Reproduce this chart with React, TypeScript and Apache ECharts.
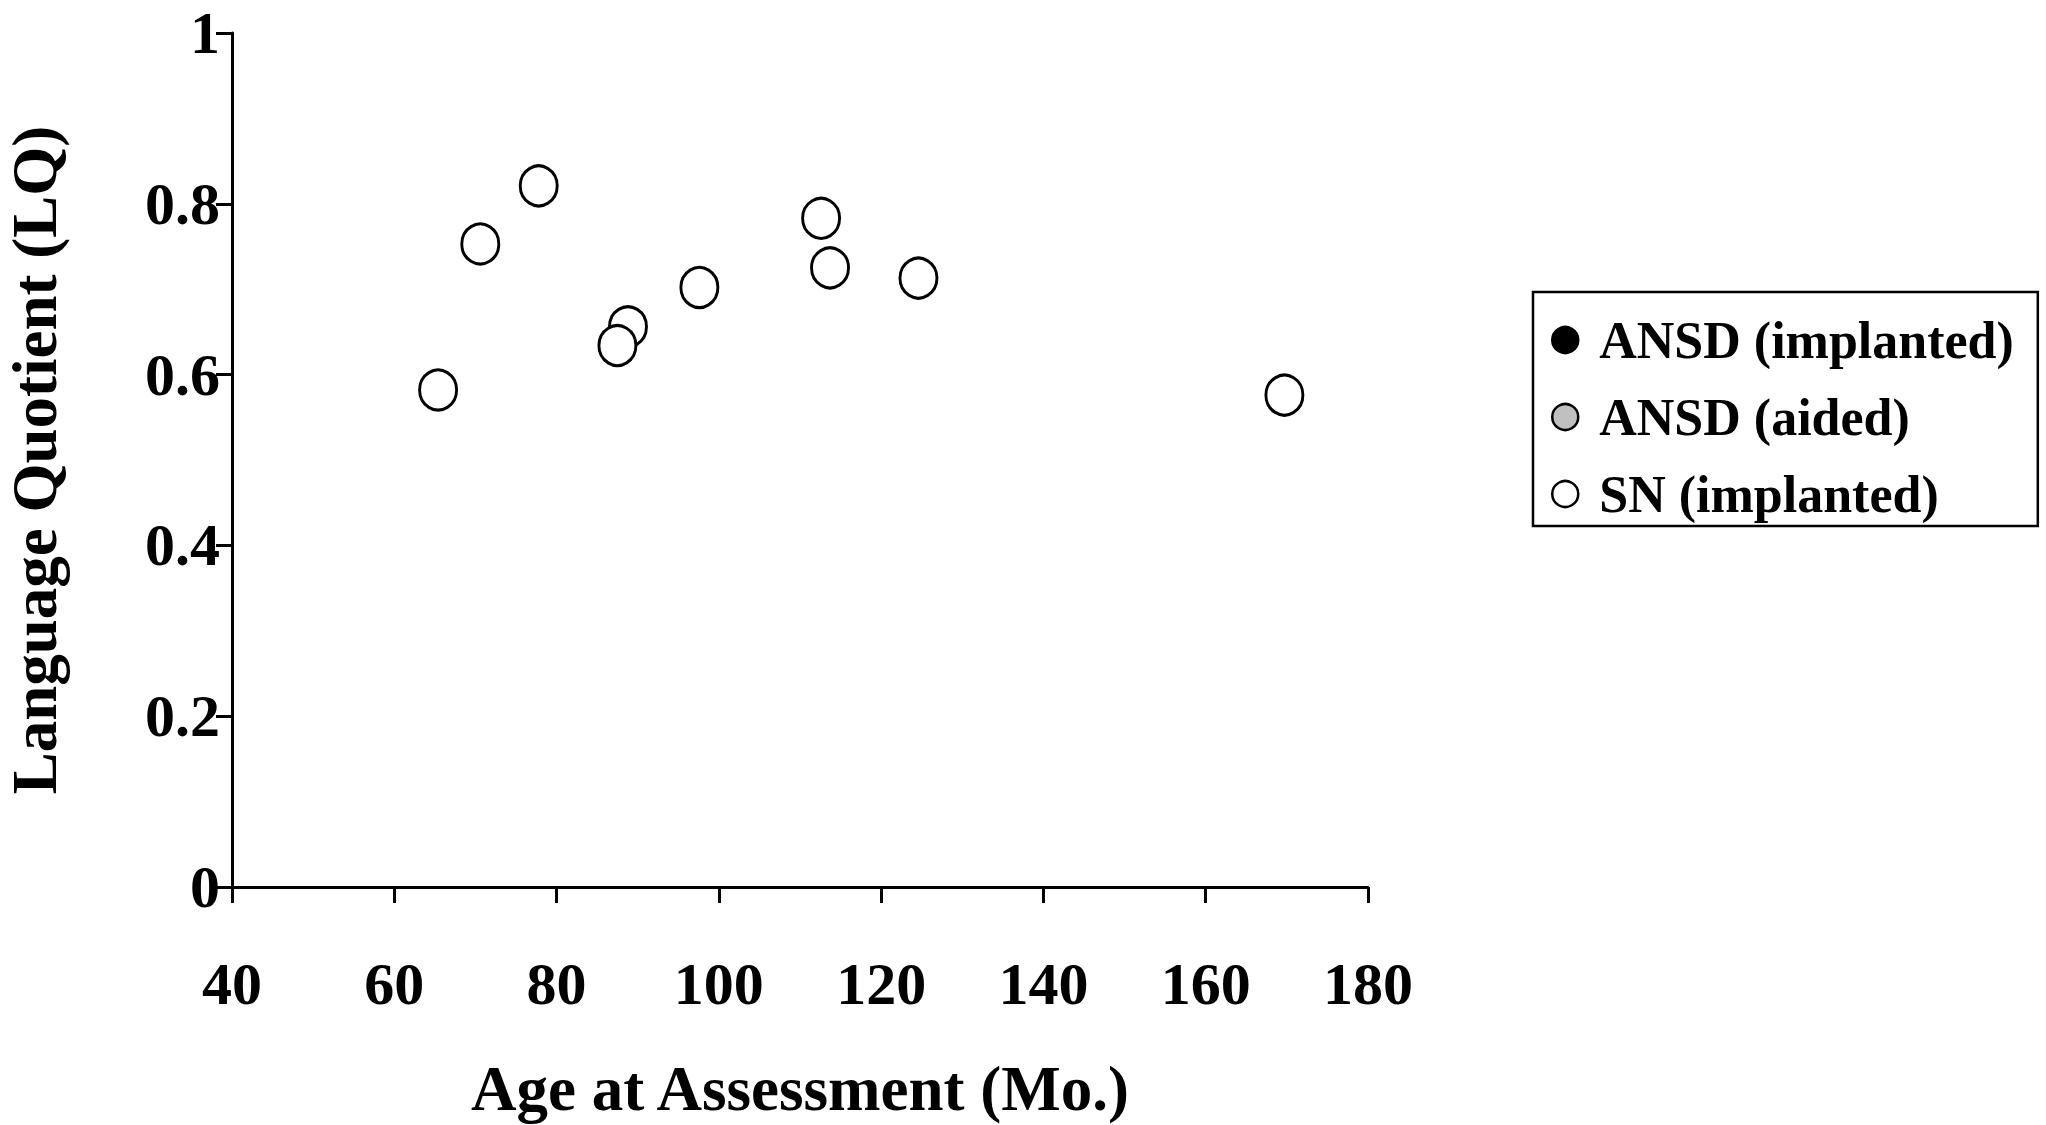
import React, { useEffect, useRef } from "react";
import * as echarts from "echarts";

const seriesNames = ["ANSD (implanted)", "ANSD (aided)", "SN (implanted)"];
const ansdImplantedAge: number[] = [];
const ansdImplantedLQ: number[] = [];
const ansdAidedAge: number[] = [];
const ansdAidedLQ: number[] = [];
const snAge = [65.4, 70.6, 77.8, 88.8, 87.5, 97.6, 112.6, 113.7, 124.6, 169.7];
const snLQ = [0.582, 0.753, 0.821, 0.656, 0.634, 0.702, 0.783, 0.725, 0.713, 0.576];

const xTitle = "Age at Assessment (Mo.)";
const yTitle = "Language Quotient (LQ)";

const pairs = (xs: number[], ys: number[]) => xs.map((x, i) => [x, ys[i]]);

const FONT = "'Liberation Serif', 'Times New Roman', serif";
const fills = ["#000", "#c0c0c0", "#fff"];

export default function App() {
  const ref = useRef<HTMLDivElement>(null);
  useEffect(() => {
    document.body.style.margin = "0";
    document.body.style.overflow = "hidden";
    const chart = echarts.init(ref.current!, null, { renderer: "svg" });
    const axisCommon = {
      axisLine: { show: true, lineStyle: { color: "#000", width: 3 } },
      axisTick: { show: true, length: 16, lineStyle: { color: "#000", width: 3 } },
      splitLine: { show: false },
      nameTextStyle: { fontFamily: FONT, fontWeight: "bold", fontSize: 63, color: "#000" },
    };
    chart.setOption({
      animation: false,
      backgroundColor: "#fff",
      grid: { left: 232, right: 678, top: 33, bottom: 238, outerBoundsMode: "none", containLabel: false },
      xAxis: {
        type: "value",
        min: 40,
        max: 180,
        interval: 20,
        name: xTitle,
        nameLocation: "middle",
        nameGap: 170,
        ...axisCommon,
        axisLabel: { margin: 67, fontFamily: FONT, fontWeight: "bold", fontSize: 60, color: "#000" },
      },
      yAxis: {
        type: "value",
        min: 0,
        max: 1,
        interval: 0.2,
        name: yTitle,
        nameLocation: "middle",
        nameGap: 166,
        nameRotate: 90,
        ...axisCommon,
        axisLabel: { margin: 12, fontFamily: FONT, fontWeight: "bold", fontSize: 60, color: "#000" },
      },
      legend: {
        orient: "vertical",
        left: 1533,
        top: 292,
        padding: [20, 24, 4, 18],
        itemGap: 21,
        itemWidth: 58,
        itemHeight: 26,
        borderColor: "#000",
        borderWidth: 2.5,
        borderRadius: 0,
        textStyle: { fontFamily: FONT, fontWeight: "bold", fontSize: 52, lineHeight: 56, color: "#000" },
        data: seriesNames.map((n, i) => ({
          name: n,
          icon: "circle",
          itemStyle: { color: fills[i], borderColor: "#000", borderWidth: 2.5, opacity: 1 },
        })),
      },
      series: [
        {
          name: seriesNames[0],
          type: "scatter",
          data: pairs(ansdImplantedAge, ansdImplantedLQ),
          symbol: "circle",
          symbolSize: [37, 40],
          itemStyle: { color: fills[0], borderColor: "#000", borderWidth: 3, opacity: 1 },
        },
        {
          name: seriesNames[1],
          type: "scatter",
          data: pairs(ansdAidedAge, ansdAidedLQ),
          symbol: "circle",
          symbolSize: [37, 40],
          itemStyle: { color: fills[1], borderColor: "#000", borderWidth: 3, opacity: 1 },
        },
        {
          name: seriesNames[2],
          type: "scatter",
          data: pairs(snAge, snLQ),
          symbol: "circle",
          symbolSize: [37, 40],
          itemStyle: { color: fills[2], borderColor: "#000", borderWidth: 3, opacity: 1 },
        },
      ],
    });
    return () => chart.dispose();
  }, []);
  return <div ref={ref} style={{ width: 2046, height: 1125 }} />;
}
